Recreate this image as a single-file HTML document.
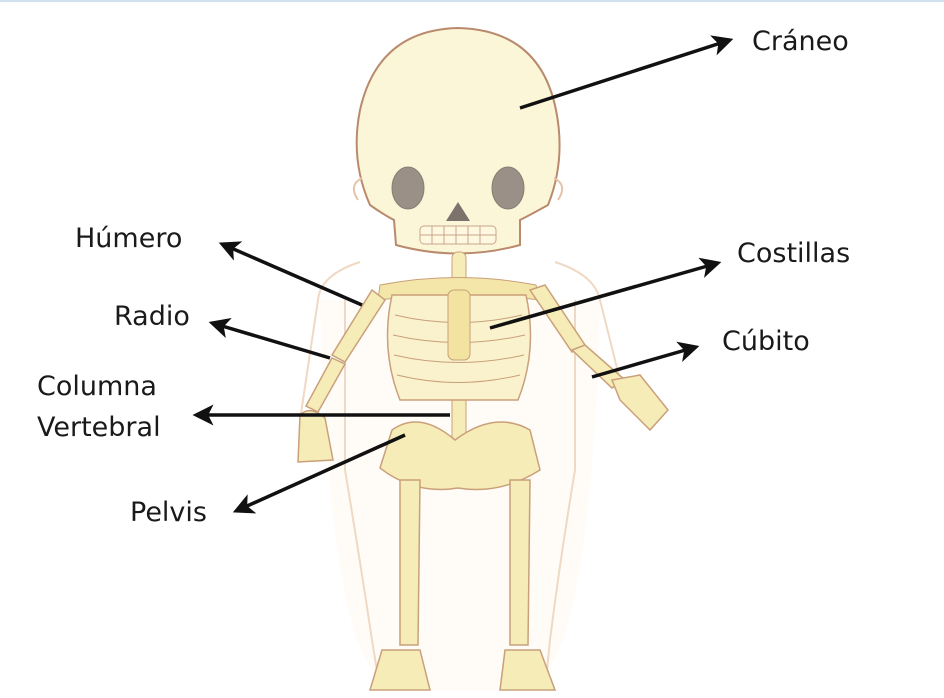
<!DOCTYPE html>
<html><head><meta charset="utf-8"><style>
html,body{margin:0;padding:0;background:#fff;}
svg{display:block}
text{font-family:"DejaVu Sans","Liberation Sans",sans-serif;font-size:27px;fill:#1a1a1a;}
</style></head><body>
<svg width="944" height="698" viewBox="0 0 944 698" xmlns="http://www.w3.org/2000/svg">
<defs>
<marker id="ah" markerWidth="6" markerHeight="6" refX="5" refY="3" orient="auto" markerUnits="strokeWidth">
<path d="M0,0 L6,3 L0,6 L1.5,3 z" fill="#111"/></marker>
</defs>
<rect width="944" height="698" fill="#fff"/>
<rect width="944" height="2" fill="#cfe0ef"/>
<path d="M320,300 Q330,690 400,690 L520,690 Q590,690 600,300" fill="#fffaf2" opacity="0.6"/>
<path d="M360,262 Q320,275 318,300 L300,420 L305,460 M555,262 Q595,275 600,300 L620,380 M345,300 L345,470 Q360,560 372,640 L380,690 M575,300 L575,470 Q560,560 550,640 L545,690" fill="none" stroke="#efd9c4" stroke-width="2"/>
<path d="M370,205 Q350,160 360,110 Q378,30 458,28 Q540,30 556,110 Q566,160 548,205 Q530,215 520,220 L520,245 Q458,262 396,245 L394,220 Q384,215 370,205 z" fill="#fcf6d9" stroke="#b98a6c" stroke-width="2"/>
<path d="M362,178 Q348,185 358,200 M554,178 Q568,185 558,200" fill="none" stroke="#e6c3a8" stroke-width="2"/>
<ellipse cx="408" cy="188" rx="16" ry="21" fill="#9a9088" stroke="#8a7d70"/>
<ellipse cx="508" cy="188" rx="16" ry="21" fill="#9a9088" stroke="#8a7d70"/>
<path d="M446,221 L458,202 L470,221 z" fill="#7d736c"/>
<rect x="420" y="226" width="76" height="18" rx="4" fill="#fff8e0" stroke="#c9a58a"/>
<path d="M420,235 L496,235 M432,226 L432,244 M444,226 L444,244 M456,226 L456,244 M468,226 L468,244 M480,226 L480,244" stroke="#c9a58a"/>
<rect x="452" y="252" width="14" height="190" rx="6" fill="#f6ecb8" stroke="#c9a07a"/>
<path d="M380,285 Q458,270 536,285 L540,300 Q458,290 378,300 z" fill="#f4e6a8" stroke="#c9a07a"/>
<path d="M392,295 Q380,350 400,400 L518,400 Q538,350 526,295 z" fill="#faf2cc" stroke="#c9a07a" stroke-width="1.5"/>
<g stroke="#c9a07a" fill="none">
<path d="M395,315 Q458,330 522,315"/><path d="M393,335 Q458,350 525,335"/><path d="M394,355 Q458,370 524,355"/><path d="M397,375 Q458,390 520,375"/>
</g>
<rect x="448" y="290" width="22" height="70" rx="6" fill="#f3e3a0" stroke="#c9a07a"/>
<g fill="#f6ecb8" stroke="#c9a07a" stroke-width="1.5">
<path d="M372,290 L385,300 L345,362 L332,355 z"/>
<path d="M332,358 L345,364 L318,412 L306,406 z"/>
<path d="M300,415 Q310,405 325,418 L333,460 L298,462 z"/>
<path d="M530,290 L545,285 L585,345 L572,352 z"/>
<path d="M572,350 L585,345 L625,380 L612,388 z"/>
<path d="M612,380 L640,375 L668,410 L650,430 L620,400 z"/>
<path d="M392,430 Q420,410 455,440 Q495,410 530,430 L540,470 Q500,495 458,488 Q415,495 380,468 z"/>
<path d="M400,480 L420,480 L418,645 L400,645 z"/>
<path d="M510,480 L530,480 L528,645 L510,645 z"/>
<path d="M382,650 L420,650 L430,690 L370,690 z"/>
<path d="M505,650 L540,650 L555,690 L500,690 z"/>
</g>
<g stroke="#111" stroke-width="3.5" marker-end="url(#ah)">
<line x1="520" y1="108" x2="730" y2="40"/>
<line x1="362" y1="305" x2="222" y2="244"/>
<line x1="330" y1="358" x2="212" y2="323"/>
<line x1="450" y1="415" x2="196" y2="415"/>
<line x1="405" y1="435" x2="236" y2="511"/>
<line x1="490" y1="328" x2="718" y2="263"/>
<line x1="592" y1="377" x2="696" y2="347"/>
</g>
<text x="752" y="50">Cráneo</text>
<text x="75" y="247">Húmero</text>
<text x="114" y="325">Radio</text>
<text x="37" y="395">Columna</text>
<text x="37" y="436">Vertebral</text>
<text x="130" y="521">Pelvis</text>
<text x="737" y="262">Costillas</text>
<text x="722" y="350">Cúbito</text>
</svg>
</body></html>
